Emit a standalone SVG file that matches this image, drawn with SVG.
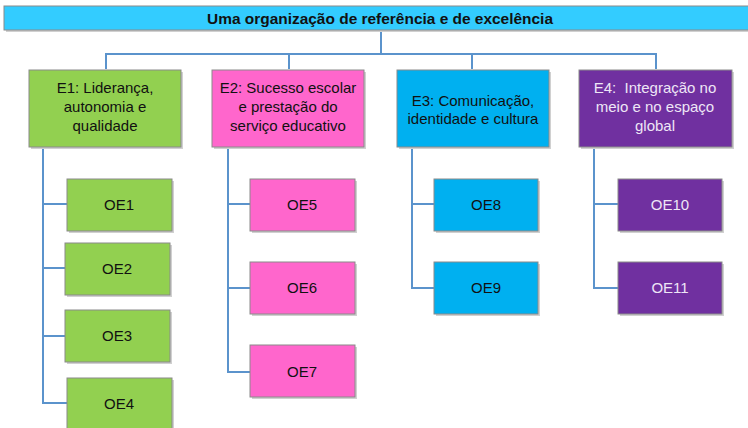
<svg xmlns="http://www.w3.org/2000/svg" width="748" height="428" viewBox="0 0 748 428">
<style>
.box{stroke:#8a8a8a;stroke-width:1}
.sh{fill:#d0d0d0}
.t{font-family:"Liberation Sans",Arial,sans-serif;font-size:15px;text-anchor:middle;fill:#111}
.w{fill:#eee6f6}
.title{font-family:"Liberation Sans",Arial,sans-serif;font-size:15.5px;font-weight:bold;text-anchor:middle;fill:#111}
.c{fill:none;stroke:#5b93cc;stroke-width:2}
.g{fill:#92d050}.p{fill:#ff66cc}.b{fill:#00b0f0}.v{fill:#7030a0}
</style>
<rect width="748" height="428" fill="#fff"/>
<g id="connectors">
<path class="c" d="M381 30V54M106 69V54H656V69M289 54V69M472 54V69"/>
<path class="c" d="M43 147V403H67M43 204H67M43 268H65M43 336H65"/>
<path class="c" d="M228 147V372H250M228 204H250M228 288H250"/>
<path class="c" d="M412 147V288H434M412 204H434"/>
<path class="c" d="M594 147V288H618M594 204H618"/>
</g>
<g id="title">
<rect class="sh" x="6" y="8" width="744" height="24"/>
<rect x="4" y="6" width="746" height="24" fill="#33ccff" class="box"/>
<text class="title" x="380" y="23.5" textLength="346" lengthAdjust="spacingAndGlyphs">Uma organização de referência e de excelência</text>
</g>
<g id="E1">
<rect class="sh" x="31" y="72" width="152" height="77"/>
<rect class="box g" x="29" y="70" width="152" height="77"/>
<text class="t" x="105" y="93">E1: Liderança,</text>
<text class="t" x="105" y="112">autonomia e</text>
<text class="t" x="105" y="131">qualidade</text>
</g>
<g id="E2">
<rect class="sh" x="214" y="72" width="152" height="77"/>
<rect class="box p" x="212" y="70" width="152" height="77"/>
<text class="t" x="288" y="93">E2: Sucesso escolar</text>
<text class="t" x="288" y="112">e prestação do</text>
<text class="t" x="288" y="131">serviço educativo</text>
</g>
<g id="E3">
<rect class="sh" x="399" y="72" width="152" height="77"/>
<rect class="box b" x="397" y="70" width="152" height="77"/>
<text class="t" x="473" y="106">E3: Comunicação,</text>
<text class="t" x="473" y="124">identidade e cultura</text>
</g>
<g id="E4">
<rect class="sh" x="581" y="72" width="153" height="77"/>
<rect class="box v" x="579" y="70" width="153" height="77"/>
<text class="t w" x="655" y="93" xml:space="preserve">E4:  Integração no</text>
<text class="t w" x="655" y="112">meio e no espaço</text>
<text class="t w" x="655" y="131">global</text>
</g>
<g id="OE1"><rect class="sh" x="69" y="181" width="105" height="52"/><rect class="box g" x="67" y="179" width="105" height="52"/><text class="t" x="119" y="210">OE1</text></g>
<g id="OE2"><rect class="sh" x="67" y="245" width="105" height="52"/><rect class="box g" x="65" y="243" width="105" height="52"/><text class="t" x="117" y="274">OE2</text></g>
<g id="OE3"><rect class="sh" x="67" y="312" width="105" height="52"/><rect class="box g" x="65" y="310" width="105" height="52"/><text class="t" x="117" y="341">OE3</text></g>
<g id="OE4"><rect class="sh" x="69" y="380" width="105" height="52"/><rect class="box g" x="67" y="378" width="105" height="52"/><text class="t" x="119" y="409">OE4</text></g>
<g id="OE5"><rect class="sh" x="252" y="181" width="105" height="52"/><rect class="box p" x="250" y="179" width="105" height="52"/><text class="t" x="302" y="210">OE5</text></g>
<g id="OE6"><rect class="sh" x="252" y="264" width="105" height="52"/><rect class="box p" x="250" y="262" width="105" height="52"/><text class="t" x="302" y="293">OE6</text></g>
<g id="OE7"><rect class="sh" x="252" y="347" width="105" height="52"/><rect class="box p" x="250" y="345" width="105" height="52"/><text class="t" x="302" y="377">OE7</text></g>
<g id="OE8"><rect class="sh" x="436" y="181" width="104" height="52"/><rect class="box b" x="434" y="179" width="104" height="52"/><text class="t" x="486" y="210">OE8</text></g>
<g id="OE9"><rect class="sh" x="436" y="264" width="104" height="52"/><rect class="box b" x="434" y="262" width="104" height="52"/><text class="t" x="486" y="293">OE9</text></g>
<g id="OE10"><rect class="sh" x="620" y="181" width="104" height="52"/><rect class="box v" x="618" y="179" width="104" height="52"/><text class="t w" x="670" y="210">OE10</text></g>
<g id="OE11"><rect class="sh" x="620" y="264" width="104" height="52"/><rect class="box v" x="618" y="262" width="104" height="52"/><text class="t w" x="670" y="293">OE11</text></g>
</svg>
